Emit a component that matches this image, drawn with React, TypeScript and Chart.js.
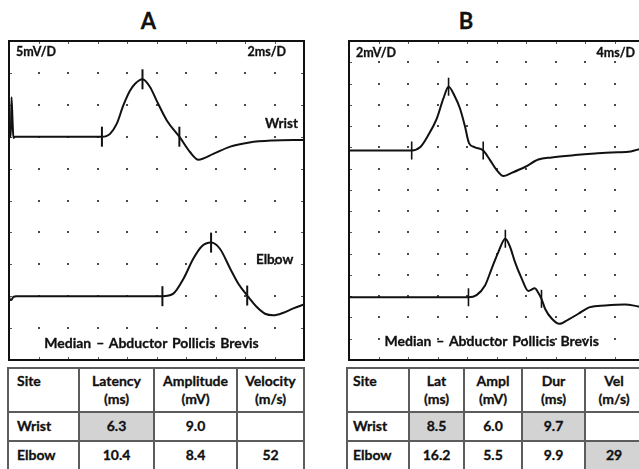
import React, { useEffect, useRef } from "react";
import { Chart, registerables } from "chart.js";

Chart.register(...registerables);

type Pt = [number, number];

// ---- Panel A: median CMAP, 5 mV/div, 2 ms/div (time in ms, amplitude in mV) ----
const aWristTrace: Pt[] = [
  [0, 35], [0.12, 35], [0.17, 41.2], [0.24, 37.5], [0.3, 34.8], [0.4, 35],
  [3, 35], [6.3, 35], [6.6, 35.1], [6.85, 35.45], [7.3, 37.0], [7.75, 39.9],
  [8.2, 42.2], [8.55, 43.3], [9.05, 44.0], [9.56, 42.8], [10.0, 40.7],
  [10.7, 37.55], [11.55, 35.0], [12.27, 32.6], [12.84, 31.4], [13.85, 32.3],
  [15.0, 33.45], [16.3, 34.1], [17.9, 34.4], [20, 34.5],
];
const aElbowTrace: Pt[] = [
  [0, 10], [0.06, 9.5], [0.15, 9.4], [0.3, 9.9], [0.5, 10], [5, 10],
  [10.4, 10], [11.14, 10.4], [11.82, 12.7], [12.5, 15.9], [13.06, 17.8],
  [13.7, 18.4], [14.31, 17.4], [15.0, 14.3], [15.55, 11.95], [16.15, 10.1],
  [16.8, 8.3], [17.36, 7.25], [17.92, 7.0], [18.6, 7.4], [19.28, 8.1], [20, 8.7],
];
// onset / peak / end cursors
const aWristMarks: Pt[] = [[6.3, 35], [9.05, 44.0], [11.55, 35.0]];
const aElbowMarks: Pt[] = [[10.4, 10], [13.7, 18.4], [16.15, 10.1]];

// ---- Panel B: median CMAP, 2 mV/div, 4 ms/div ----
const bWristTrace: Pt[] = [
  [0, 19.7], [8.5, 19.7], [9.63, 20.0], [10.75, 21.15], [11.9, 22.7],
  [12.8, 24.6], [13.5, 25.7], [14.37, 24.75], [15.05, 23.65], [15.73, 21.95],
  [16.27, 20.4], [17.08, 20.0], [18.2, 19.7], [19.12, 18.8], [20.03, 17.85],
  [20.92, 17.3], [22.06, 17.6], [23.86, 18.15], [25.67, 18.85], [27.48, 19.05],
  [30.64, 19.27], [33.36, 19.42], [35.62, 19.52], [37.87, 19.58], [39.23, 19.8],
  [40, 19.9],
];
const bElbowTrace: Pt[] = [
  [0, 5.9], [16.2, 5.9], [17.3, 6.1], [18.44, 7.0], [19.35, 8.6], [20.25, 10.15],
  [21.2, 11.4], [21.83, 10.65], [22.51, 9.2], [23.42, 7.65], [24.31, 6.5],
  [25.2, 6.75], [25.6, 6.4], [26.1, 5.75], [26.6, 4.8], [27.48, 3.9],
  [28.52, 3.4], [29.74, 3.8], [31.1, 4.35], [32.68, 4.97], [34.71, 5.13],
  [37.42, 5.23], [39.23, 5.04], [40, 4.95],
];
const bWristMarks: Pt[] = [[8.5, 19.7], [13.5, 25.7], [18.2, 19.7]];
const bElbowMarks: Pt[] = [[16.2, 5.9], [21.2, 11.4], [26.1, 5.75]];

// ---- Result tables ----
const aTableHead = ["Site", "Latency\n(ms)", "Amplitude\n(mV)", "Velocity\n(m/s)"];
const aTableRows = [
  ["Wrist", "6.3", "9.0", ""],
  ["Elbow", "10.4", "8.4", "52"],
];
const aTableShaded = [
  [false, true, false, false],
  [false, false, false, false],
];

const bTableHead = ["Site", "Lat\n(ms)", "Ampl\n(mV)", "Dur\n(ms)", "Vel\n(m/s)"];
const bTableRows = [
  ["Wrist", "8.5", "6.0", "9.7", ""],
  ["Elbow", "16.2", "5.5", "9.9", "29"],
];
const bTableShaded = [
  [false, true, false, true, false],
  [false, false, false, false, true],
];

const FONT = "Lato, 'Open Sans', 'DejaVu Sans', sans-serif";
const INK = "#111";

// Dot graticule, border ticks and frame of the sweep display
const scopeGrid = {
  id: "scopeGrid",
  beforeDatasetsDraw(chart: any, _args: any, opts: any) {
    const { ctx, chartArea: a, scales } = chart;
    const x = scales.x;
    const y = scales.y;
    const { xMax, yMax, xStep, yStep } = opts;
    ctx.save();
    ctx.fillStyle = "#4a4a4a";
    ctx.strokeStyle = "#555";
    ctx.lineWidth = 1;
    for (let vx = xStep; vx < xMax - 1e-6; vx += xStep) {
      const px = Math.round(x.getPixelForValue(vx));
      for (let vy = yStep; vy < yMax - 1e-6; vy += yStep) {
        const py = Math.round(y.getPixelForValue(vy));
        ctx.fillRect(px - 1, py - 1, 2, 2);
      }
      ctx.beginPath();
      ctx.moveTo(px + 0.5, a.top);
      ctx.lineTo(px + 0.5, a.top + 3);
      ctx.moveTo(px + 0.5, a.bottom);
      ctx.lineTo(px + 0.5, a.bottom - 3);
      ctx.stroke();
    }
    for (let vy = yStep; vy < yMax - 1e-6; vy += yStep) {
      const py = Math.round(y.getPixelForValue(vy));
      ctx.beginPath();
      ctx.moveTo(a.left, py + 0.5);
      ctx.lineTo(a.left + 3, py + 0.5);
      ctx.moveTo(a.right, py + 0.5);
      ctx.lineTo(a.right - 3, py + 0.5);
      ctx.stroke();
    }
    ctx.restore();
  },
  afterDatasetsDraw(chart: any) {
    const { ctx, chartArea: a } = chart;
    ctx.save();
    ctx.strokeStyle = INK;
    ctx.lineWidth = 2;
    ctx.strokeRect(a.left, a.top, a.right - a.left, a.bottom - a.top);
    ctx.restore();
  },
};

type ScopeProps = {
  traces: Pt[][];
  marks: Pt[][];
  xMax: number;
  yMax: number;
  xStep: number;
  yStep: number;
  markRadius: number;
  markWidth: number;
  left: number;
  top: number;
};

const CANVAS_W = 299;
const CANVAS_H = 323;

function ScopeChart(p: ScopeProps) {
  const ref = useRef<HTMLCanvasElement>(null);
  useEffect(() => {
    if (!ref.current) return;
    const datasets: any[] = [];
    p.traces.forEach((t) =>
      datasets.push({
        data: t.map(([x, y]) => ({ x, y })),
        borderColor: INK,
        borderWidth: 2,
        pointRadius: 0,
        cubicInterpolationMode: "monotone",
        fill: false,
      })
    );
    p.marks.forEach((m) =>
      datasets.push({
        data: m.map(([x, y]) => ({ x, y })),
        showLine: false,
        pointStyle: "line",
        rotation: 90,
        pointRadius: p.markRadius,
        pointBorderWidth: p.markWidth,
        pointBorderColor: INK,
        borderColor: INK,
        backgroundColor: INK,
      })
    );
    const chart = new Chart(ref.current, {
      type: "line",
      data: { datasets },
      options: {
        animation: false,
        responsive: false,
        maintainAspectRatio: false,
        devicePixelRatio: 1,
        layout: { padding: 2, autoPadding: false },
        events: [],
        scales: {
          x: { type: "linear", min: 0, max: p.xMax, display: false },
          y: { type: "linear", min: 0, max: p.yMax, display: false },
        },
        plugins: {
          legend: { display: false },
          tooltip: { enabled: false },
          scopeGrid: { xMax: p.xMax, yMax: p.yMax, xStep: p.xStep, yStep: p.yStep },
        } as any,
      },
      plugins: [scopeGrid as any],
    });
    return () => chart.destroy();
  }, []);
  return (
    <canvas
      ref={ref}
      width={CANVAS_W}
      height={CANVAS_H}
      style={{ position: "absolute", left: p.left, top: p.top, width: CANVAS_W, height: CANVAS_H }}
    />
  );
}

// Text placed by its baseline
function Txt(props: {
  x: number;
  base: number;
  size: number;
  align?: "left" | "center" | "right";
  wordGap?: number;
  children: React.ReactNode;
}) {
  const { x, base, size, align = "left", wordGap = 0 } = props;
  const shift = align === "center" ? "translateX(-50%)" : align === "right" ? "translateX(-100%)" : "none";
  return (
    <div
      style={{
        position: "absolute",
        left: x,
        top: base - 0.887 * size,
        fontFamily: FONT,
        fontWeight: 700,
        fontSize: size,
        lineHeight: 1,
        whiteSpace: "nowrap",
        wordSpacing: wordGap,
        color: INK,
        WebkitTextStroke: "0.3px " + INK,
        transform: shift,
      }}
    >
      {props.children}
    </div>
  );
}

type TableProps = {
  left: number;
  top: number;
  colWidths: number[];
  rowHeights: number[];
  head: string[];
  rows: string[][];
  shaded: boolean[][];
  firstPad: number;
};

function DataTable(t: TableProps) {
  const line = "2px solid #5c5c5c";
  const cellBase: React.CSSProperties = {
    boxSizing: "border-box",
    borderRight: line,
    borderBottom: line,
    display: "flex",
    fontFamily: FONT,
    fontWeight: 700,
    fontSize: 14,
    lineHeight: "18.5px",
    color: INK,
    whiteSpace: "nowrap",
    WebkitTextStroke: "0.3px " + INK,
  };
  return (
    <div
      style={{
        position: "absolute",
        left: t.left,
        top: t.top,
        display: "grid",
        gridTemplateColumns: t.colWidths.map((w) => w + "px").join(" "),
        gridTemplateRows: t.rowHeights.map((h) => h + "px").join(" "),
        borderLeft: line,
        borderTop: line,
      }}
    >
      {t.head.map((h, i) => (
        <div
          key={"h" + i}
          style={{
            ...cellBase,
            flexDirection: "column",
            alignItems: i === 0 ? "flex-start" : "center",
            justifyContent: i === 0 ? "flex-start" : "center",
            paddingLeft: i === 0 ? t.firstPad : 0,
            paddingTop: i === 0 ? 3 : 0,
          }}
        >
          {h.split("\n").map((s, k) => (
            <div key={k}>{s}</div>
          ))}
        </div>
      ))}
      {t.rows.map((r, ri) =>
        r.map((c, ci) => (
          <div
            key={ri + "-" + ci}
            style={{
              ...cellBase,
              alignItems: "center",
              justifyContent: ci === 0 ? "flex-start" : "center",
              paddingLeft: ci === 0 ? t.firstPad : 0,
              background: t.shaded[ri][ci] ? "#d3d3d3" : "#fff",
            }}
          >
            {c}
          </div>
        ))
      )}
    </div>
  );
}

export default function App() {
  return (
    <div
      style={{
        position: "fixed",
        left: 0,
        top: 0,
        width: 639,
        height: 469,
        overflow: "hidden",
        background: "#fff",
      }}
    >
      <Txt x={148.3} base={29.2} size={22} align="center">A</Txt>
      <Txt x={466} base={29.2} size={22} align="center">B</Txt>

      <ScopeChart
        traces={[aWristTrace, aElbowTrace]}
        marks={[aWristMarks, aElbowMarks]}
        xMax={20}
        yMax={50}
        xStep={2}
        yStep={5}
        markRadius={10}
        markWidth={2}
        left={7}
        top={39}
      />
      <ScopeChart
        traces={[bWristTrace, bElbowTrace]}
        marks={[bWristMarks, bElbowMarks]}
        xMax={40}
        yMax={30}
        xStep={4}
        yStep={2}
        markRadius={9}
        markWidth={1.6}
        left={347}
        top={39}
      />

      <Txt x={16} base={57} size={12.5}>5mV/D</Txt>
      <Txt x={286} base={57} size={12.5} align="right">2ms/D</Txt>
      <Txt x={265} base={128.5} size={13.5}>Wrist</Txt>
      <Txt x={256} base={264.5} size={13.5}>Elbow</Txt>
      <Txt x={151.5} base={348} size={14} align="center" wordGap={1.5}>Median – Abductor Pollicis Brevis</Txt>

      <Txt x={356} base={58} size={12.5}>2mV/D</Txt>
      <Txt x={635} base={58} size={12.5} align="right">4ms/D</Txt>
      <Txt x={491.7} base={346.7} size={14} align="center" wordGap={1.5}>Median – Abductor Pollicis Brevis</Txt>

      <DataTable
        left={7}
        top={367}
        colWidths={[71, 75, 83, 67]}
        rowHeights={[44, 29, 29]}
        head={aTableHead}
        rows={aTableRows}
        shaded={aTableShaded}
        firstPad={8}
      />
      <DataTable
        left={346}
        top={367}
        colWidths={[62, 55, 58, 63, 58]}
        rowHeights={[44, 29, 29]}
        head={bTableHead}
        rows={bTableRows}
        shaded={bTableShaded}
        firstPad={5}
      />
    </div>
  );
}
